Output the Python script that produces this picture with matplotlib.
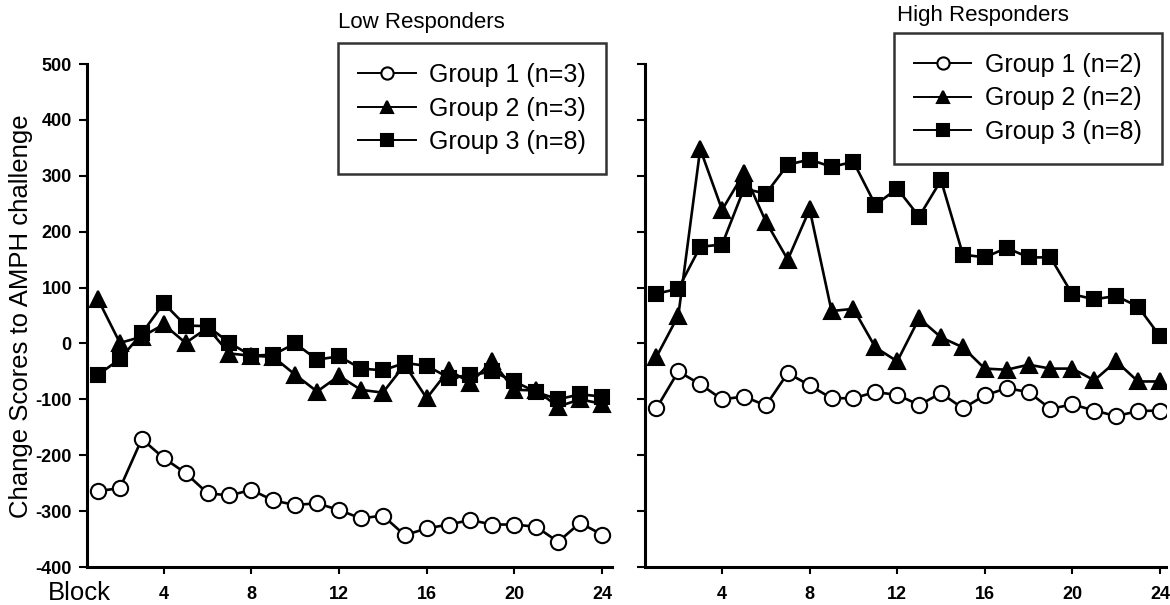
import matplotlib
matplotlib.use("Agg")
import matplotlib.pyplot as plt

plt.rcParams['font.family'] = ['Liberation Sans', 'DejaVu Sans']
plt.rcParams['axes.unicode_minus'] = False

blocks = list(range(1, 25))
xticks = [4, 8, 12, 16, 20, 24]
yticks = [-400, -300, -200, -100, 0, 100, 200, 300, 400, 500]

# Low responders
low_g1 = [-264, -259, -171, -205, -232, -268, -272, -262, -281, -289, -286, -298,
          -313, -308, -343, -331, -324, -316, -324, -324, -328, -355, -321, -342]
low_g2 = [79, 1, 12, 34, 1, 28, -18, -22, -24, -56, -86, -58,
          -83, -88, -38, -98, -48, -70, -32, -83, -84, -113, -100, -108]
low_g3 = [-56, -28, 18, 72, 32, 31, 1, -22, -20, 0, -29, -23,
          -45, -48, -35, -40, -61, -57, -50, -68, -87, -100, -91, -95]

# High responders
high_g1 = [-116, -50, -73, -100, -95, -111, -53, -75, -98, -98, -87, -92,
           -110, -89, -116, -93, -80, -87, -117, -109, -120, -130, -121, -120]
high_g2 = [-24, 50, 348, 239, 305, 218, 150, 240, 58, 62, -7, -32,
           45, 11, -7, -45, -47, -38, -45, -45, -66, -32, -68, -68]
high_g3 = [89, 98, 173, 177, 277, 268, 320, 329, 316, 325, 248, 277,
           227, 292, 159, 154, 171, 154, 154, 88, 79, 85, 66, 13]

low_labels = ['Group 1 (n=3)', 'Group 2 (n=3)', 'Group 3 (n=8)']
high_labels = ['Group 1 (n=2)', 'Group 2 (n=2)', 'Group 3 (n=8)']

fig = plt.figure(figsize=(11.7, 6.05), dpi=100)
axL = fig.add_axes([0.0744, 0.0628, 0.4487, 0.8314])
axR = fig.add_axes([0.5517, 0.0628, 0.4453, 0.8314])

styles = [dict(marker='o', mfc='white', mec='black', ms=11),
          dict(marker='^', mfc='black', mec='black', ms=11),
          dict(marker='s', mfc='black', mec='black', ms=10.5)]


def draw(ax, series, labels, xlim):
    handles = []
    for vals, st, lab in zip(series, styles, labels):
        h, = ax.plot(blocks, vals, color='black', lw=1.9, mew=1.5,
                     label=lab, **st)
        handles.append(h)
    ax.set_xlim(*xlim)
    ax.set_ylim(-400, 500)
    ax.set_xticks(xticks)
    ax.set_yticks(yticks)
    for s in ['top', 'right']:
        ax.spines[s].set_visible(False)
    for s in ['left', 'bottom']:
        ax.spines[s].set_linewidth(2.2)
    ax.tick_params(direction='out', length=6, width=1.5, labelsize=13)
    ax.tick_params(axis='x', pad=9, length=5)
    ax.tick_params(axis='y', pad=5)
    for t in ax.get_xticklabels() + ax.get_yticklabels():
        t.set_fontweight('bold')
    return handles


hL = draw(axL, [low_g1, low_g2, low_g3], low_labels, (0.5, 24.46))
hR = draw(axR, [high_g1, high_g2, high_g3], high_labels, (0.5, 24.3))
axR.tick_params(axis='y', labelleft=False)

leg_kw = dict(loc='upper left', fontsize=18, frameon=True, fancybox=False,
              edgecolor='black', handlelength=2.3, handletextpad=0.55,
              labelspacing=0.38, borderpad=0.8, numpoints=1,
              borderaxespad=0.0, markerscale=0.8)
legL = fig.legend(handles=hL, labels=low_labels,
                  bbox_to_anchor=(0.2889, 0.9289), **leg_kw)
legR = fig.legend(handles=hR, labels=high_labels,
                  bbox_to_anchor=(0.7641, 0.9455), **leg_kw)
for lg in (legL, legR):
    lg.get_frame().set_linewidth(1.8)
    for ln in lg.get_lines():
        ln.set_linewidth(1.4)

fig.text(0.2889, 0.962, 'Low Responders', fontsize=16, ha='left', va='center')
fig.text(0.7667, 0.9736, 'High Responders', fontsize=16, ha='left', va='center')
fig.text(0.018, 0.477, 'Change Scores to AMPH challenge', fontsize=18.5,
         rotation=90, ha='center', va='center')
fig.text(0.0675, 0.0198, 'Block', fontsize=18.5, ha='center', va='center')

fig.savefig('out.png', dpi=100)
